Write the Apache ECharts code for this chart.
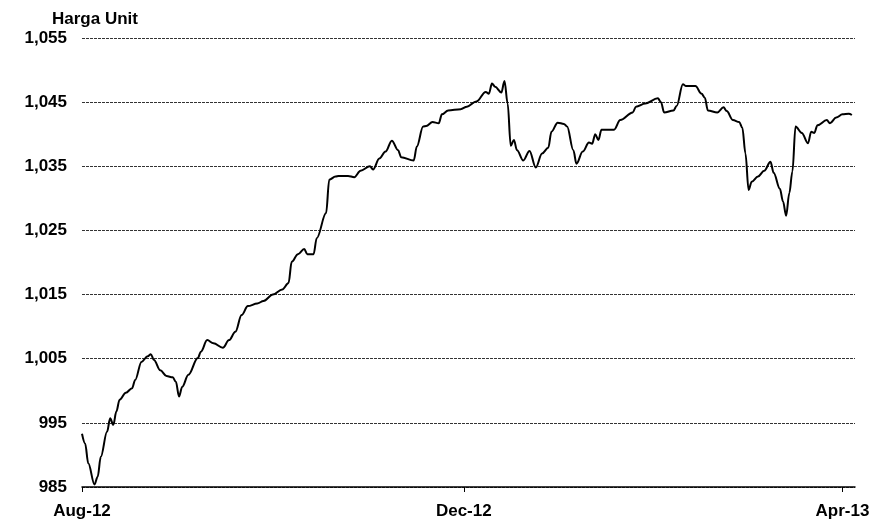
<!DOCTYPE html>
<html>
<head>
<meta charset="utf-8">
<script src="https://cdn.jsdelivr.net/npm/echarts@6/dist/echarts.min.js"></script>
<style>
html,body{margin:0;padding:0;background:#fff;}
#chart{width:888px;height:521px;}
</style>
</head>
<body>
<div id="chart"></div>
<script>
const titleText = 'Harga Unit';
const tickDates = ['2012-08-01', '2012-12-01', '2013-04-01'];
const tickLabels = ['Aug-12', 'Dec-12', 'Apr-13'];
const axisStart = '2012-08-01';
const axisEnd = '2013-04-05';
const yMin = 985, yMax = 1055, yStep = 10;

const dates = [
 '2012-08-01','2012-08-02','2012-08-03','2012-08-05','2012-08-06','2012-08-07','2012-08-09','2012-08-10','2012-08-11','2012-08-12',
 '2012-08-13','2012-08-15','2012-08-17','2012-08-18','2012-08-20','2012-08-22','2012-08-23','2012-08-24','2012-08-26','2012-08-28',
 '2012-08-30','2012-08-31','2012-09-01','2012-09-02','2012-09-04','2012-09-07','2012-09-08','2012-09-10','2012-09-12','2012-09-15',
 '2012-09-17','2012-09-19','2012-09-21','2012-09-23','2012-09-26','2012-09-28','2012-10-01','2012-10-04','2012-10-06','2012-10-07',
 '2012-10-09','2012-10-11','2012-10-12','2012-10-14','2012-10-15','2012-10-18','2012-10-19','2012-10-21','2012-10-22','2012-10-25',
 '2012-10-27','2012-10-29','2012-11-01','2012-11-02','2012-11-04','2012-11-06','2012-11-08','2012-11-10','2012-11-11','2012-11-15',
 '2012-11-16','2012-11-18','2012-11-19','2012-11-21','2012-11-23','2012-11-24','2012-11-26','2012-11-30','2012-12-02','2012-12-05',
 '2012-12-08','2012-12-09','2012-12-10','2012-12-11','2012-12-13','2012-12-14','2012-12-15','2012-12-16','2012-12-17','2012-12-18',
 '2012-12-20','2012-12-22','2012-12-24','2012-12-26','2012-12-28','2012-12-29','2012-12-31','2013-01-02','2013-01-03','2013-01-05',
 '2013-01-06','2013-01-08','2013-01-10','2013-01-11','2013-01-12','2013-01-13','2013-01-14','2013-01-18','2013-01-20','2013-01-24',
 '2013-01-25','2013-01-28','2013-02-01','2013-02-02','2013-02-03','2013-02-06','2013-02-07','2013-02-09','2013-02-10','2013-02-13',
 '2013-02-15','2013-02-16','2013-02-17','2013-02-20','2013-02-22','2013-02-23','2013-02-25','2013-02-27','2013-02-28','2013-03-01',
 '2013-03-02','2013-03-03','2013-03-05','2013-03-07','2013-03-09','2013-03-10','2013-03-12','2013-03-13','2013-03-14','2013-03-15',
 '2013-03-16','2013-03-17','2013-03-19','2013-03-21','2013-03-22','2013-03-23','2013-03-24','2013-03-27','2013-03-28','2013-03-30',
 '2013-04-01','2013-04-03','2013-04-04'
];
const prices = [
 993.3, 991.8, 988.7, 985.4, 986.6, 989.7, 993.6, 995.7, 994.7, 996.8,
 998.6, 999.7, 1000.4, 1001.7, 1004.5, 1005.4, 1005.7, 1004.8, 1003.2, 1002.3,
 1002.1, 1001.4, 999.1, 1000.6, 1002.5, 1005.1, 1006.1, 1007.9, 1007.4, 1006.7,
 1007.9, 1009.2, 1011.8, 1013.2, 1013.6, 1014.0, 1015.0, 1015.8, 1016.8, 1020.1,
 1021.3, 1022.1, 1021.3, 1021.3, 1023.8, 1027.7, 1032.9, 1033.4, 1033.5, 1033.5,
 1033.3, 1034.3, 1035.0, 1034.5, 1036.2, 1037.3, 1039.0, 1037.5, 1036.4, 1035.9,
 1038.1, 1041.2, 1041.3, 1041.9, 1041.7, 1043.1, 1043.7, 1043.9, 1044.3, 1045.1,
 1046.6, 1046.3, 1047.9, 1047.4, 1046.5, 1048.3, 1044.8, 1038.2, 1039.1, 1037.5,
 1035.9, 1037.4, 1034.8, 1037.0, 1037.9, 1040.4, 1041.8, 1041.6, 1041.2, 1037.5,
 1035.4, 1037.3, 1038.7, 1038.5, 1040.0, 1039.1, 1040.7, 1040.7, 1042.2, 1043.4,
 1044.3, 1044.8, 1045.6, 1045.0, 1043.4, 1043.7, 1044.4, 1047.8, 1047.5, 1047.5,
 1046.3, 1045.7, 1043.7, 1043.4, 1044.2, 1043.6, 1042.2, 1041.9, 1041.0, 1037.0,
 1031.3, 1032.6, 1033.4, 1034.3, 1035.7, 1034.0, 1031.5, 1029.5, 1027.3, 1030.8,
 1034.2, 1041.2, 1040.2, 1038.6, 1040.4, 1040.2, 1041.4, 1042.2, 1041.7, 1042.6,
 1043.1, 1043.2, 1043.0
];

function ts(s) {
  const p = s.split('-').map(Number);
  return Date.UTC(p[0], p[1] - 1, p[2]);
}
const tickTs = tickDates.map(ts);
const seriesData = dates.map((d, i) => [ts(d), prices[i]]);

const FONT = '"Liberation Sans", Arial, sans-serif';
const chart = echarts.init(document.getElementById('chart'), null, {renderer: 'canvas'});
chart.setOption({
  animation: false,
  backgroundColor: '#ffffff',
  title: {
    text: titleText,
    left: 47, top: 6,
    textStyle: {fontFamily: FONT, fontSize: 17, fontWeight: 'bold', color: '#000'}
  },
  grid: {left: 82, right: 33, top: 38, bottom: 34, containLabel: false},
  xAxis: {
    type: 'value',
    min: ts(axisStart),
    max: ts(axisEnd),
    axisLine: {show: true, lineStyle: {color: '#000', width: 1.5}},
    axisTick: {show: true, length: 5, inside: false, customValues: tickTs, lineStyle: {color: '#000', width: 1}},
    axisLabel: {
      customValues: tickTs,
      margin: 16,
      showMinLabel: true, showMaxLabel: true,
      fontFamily: FONT, fontSize: 17, fontWeight: 'bold', color: '#000',
      formatter: function (v) {
        const i = tickTs.indexOf(v);
        return i >= 0 ? tickLabels[i] : '';
      }
    },
    splitLine: {show: false}
  },
  yAxis: {
    type: 'value',
    min: yMin, max: yMax, interval: yStep,
    axisLine: {show: false},
    axisTick: {show: false},
    axisLabel: {
      margin: 15,
      fontFamily: FONT, fontSize: 17, fontWeight: 'bold', color: '#000',
      formatter: function (v) { return v.toLocaleString('en-US'); }
    },
    splitLine: {show: true, lineStyle: {color: '#333', width: 1, type: [3, 1]}}
  },
  series: [{
    type: 'line',
    data: seriesData,
    showSymbol: false,
    smooth: 0.35,
    smoothMonotone: 'x',
    lineStyle: {color: '#000', width: 2},
    z: 3
  }]
});
</script>
</body>
</html>
